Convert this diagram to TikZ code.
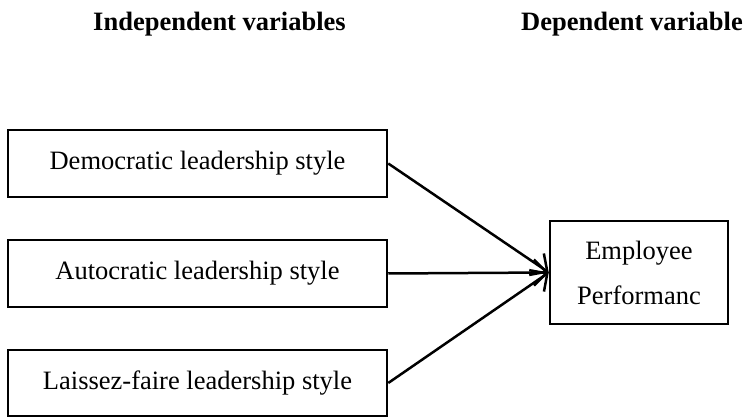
\documentclass[tikz,border=0pt]{standalone}
\usepackage{fontspec}
\setmainfont{Liberation Serif}
\usetikzlibrary{arrows.meta}
\begin{document}
\begin{tikzpicture}[x=1pt,y=-1pt,
  every node/.style={font=\fontsize{26.5}{45}\selectfont},
  varbox/.style={draw,line width=2.5pt,inner sep=0pt},
  header/.style={font=\fontsize{26.5}{32}\selectfont\bfseries,anchor=base},
  link/.style={line width=2.5pt,-{Straight Barb[length=13pt,width=26pt,line width=2.5pt]}}]
\useasboundingbox (0,0) rectangle (747,419);
% column headers
\node[header] (hind) at (219.5,31) {Independent variables};
\node[header] (hdep) at (632,31) {Dependent variable};
% independent variables
\node[varbox,minimum width=379pt,minimum height=67pt] (dem) at (197.5,163.5) {Democratic leadership style};
\node[varbox,minimum width=379pt,minimum height=67pt] (aut) at (197.5,273.5) {Autocratic leadership style};
\node[varbox,minimum width=379pt,minimum height=66pt] (lai) at (197.5,383) {Laissez-faire leadership style};
% dependent variable
\node[varbox,minimum width=178pt,minimum height=103pt,align=center] (emp) at (639,272.5) {Employee\\Performanc};
% links
\draw[link] (dem.east) -- (emp.west);
\draw[link] (aut.east) -- (emp.west);
\draw[link] (lai.east) -- (emp.west);
\end{tikzpicture}
\end{document}
